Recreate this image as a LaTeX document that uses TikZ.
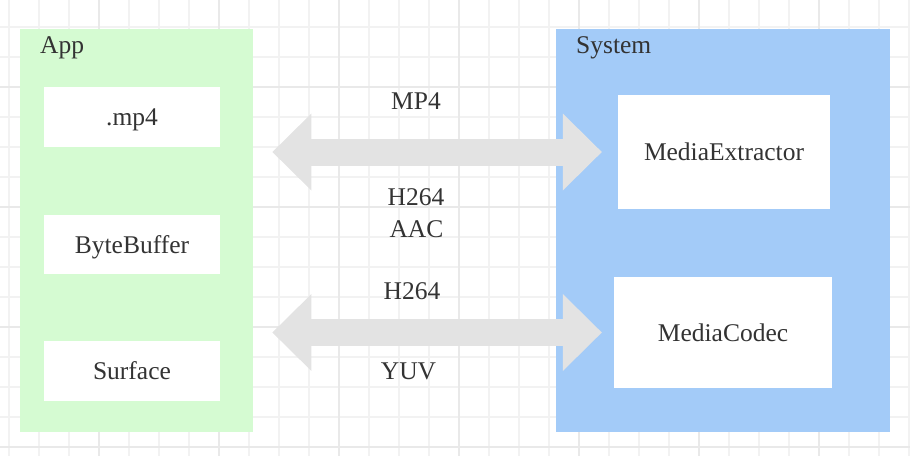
\documentclass[tikz,border=0pt]{standalone}
\usepackage{fontspec}
\setmainfont{Liberation Serif}
\usepackage{tikz}
\usetikzlibrary{arrows.meta,positioning,calc}
\definecolor{cApp}{HTML}{D5FBD2}
\definecolor{cSys}{HTML}{A3CBF8}
\definecolor{cArr}{HTML}{E3E3E3}
\definecolor{cTxt}{HTML}{333333}
\definecolor{cGrid}{HTML}{F2F2F2}
\definecolor{cGridB}{HTML}{E9E9E9}
\tikzset{
  grp/.style   ={fill=#1,draw=none,anchor=north west,inner sep=0pt},
  blk/.style   ={fill=white,draw=none,inner sep=0pt,text=cTxt,
                 text height=17pt,text depth=0pt},
  ttl/.style   ={text=cTxt,anchor=base west,inner sep=0pt},
  tag/.style   ={text=cTxt,anchor=base,inner sep=0pt},
  fat/.style   ={draw=cArr,line width=27pt,
                 {Triangle[length=39pt,width=77pt,line width=0pt]}-{Triangle[length=39pt,width=77pt,line width=0pt]}},
}

\begin{document}
\begin{tikzpicture}[x=1pt, y=-1pt, font=\fontsize{25.5}{30}\selectfont]
\useasboundingbox (0,0) rectangle (910,456);

% ===== background grid =====================================================
\foreach \x in {9,39,...,909}{\draw[cGrid,line width=1.5pt] (\x,0) -- (\x,456);}
\foreach \y in {27,57,...,456}{\draw[cGrid,line width=1.5pt] (0,\y) -- (910,\y);}
\foreach \x in {99,219,...,909}{\draw[cGridB,line width=2pt] (\x,0) -- (\x,456);}
\foreach \y in {87,207,...,456}{\draw[cGridB,line width=2pt] (0,\y) -- (910,\y);}

% ===== App side ============================================================
\node[grp=cApp,minimum width=233pt,minimum height=403pt] (app) at (20,29) {};
\node[ttl] (applbl) at (40,53) {App};
\node[blk,minimum width=176pt,minimum height=60pt] (mp4)  at (132,117)   {.mp4};
\node[blk,minimum width=176pt,minimum height=59pt] (bbuf) at (132,244.5) {ByteBuffer};
\node[blk,minimum width=176pt,minimum height=60pt] (surf) at (132,371)   {Surface};

% ===== System side =========================================================
\node[grp=cSys,minimum width=334pt,minimum height=403pt] (sys) at (556,29) {};
\node[ttl] (syslbl) at (576,53) {System};
\node[blk,minimum width=212pt,minimum height=114pt] (ext)   at (724,152)   {MediaExtractor};
\node[blk,minimum width=218pt,minimum height=111pt] (codec) at (723,332.5) {MediaCodec};

% ===== data paths ==========================================================
\coordinate (extL)   at ($(app.east |- ext)+(19,0)$);
\coordinate (extR)   at ($(ext.west)+(-16,0)$);
\coordinate (codecL) at ($(app.east |- codec)+(19,0)$);
\coordinate (codecR) at ($(codec.west)+(-12,0)$);
\draw[fat] (extL) -- (extR);
\draw[fat] (codecL) -- (codecR);

\node[tag] (tMp4)  at (416,109)   {MP4};
\node[tag] (tH1)   at (416,205)   {H264};
\node[tag] (tAac)  at (416.5,237) {AAC};
\node[tag] (tH2)   at (412,299)   {H264};
\node[tag] (tYuv)  at (408.5,379) {YUV};
\end{tikzpicture}
\end{document}
